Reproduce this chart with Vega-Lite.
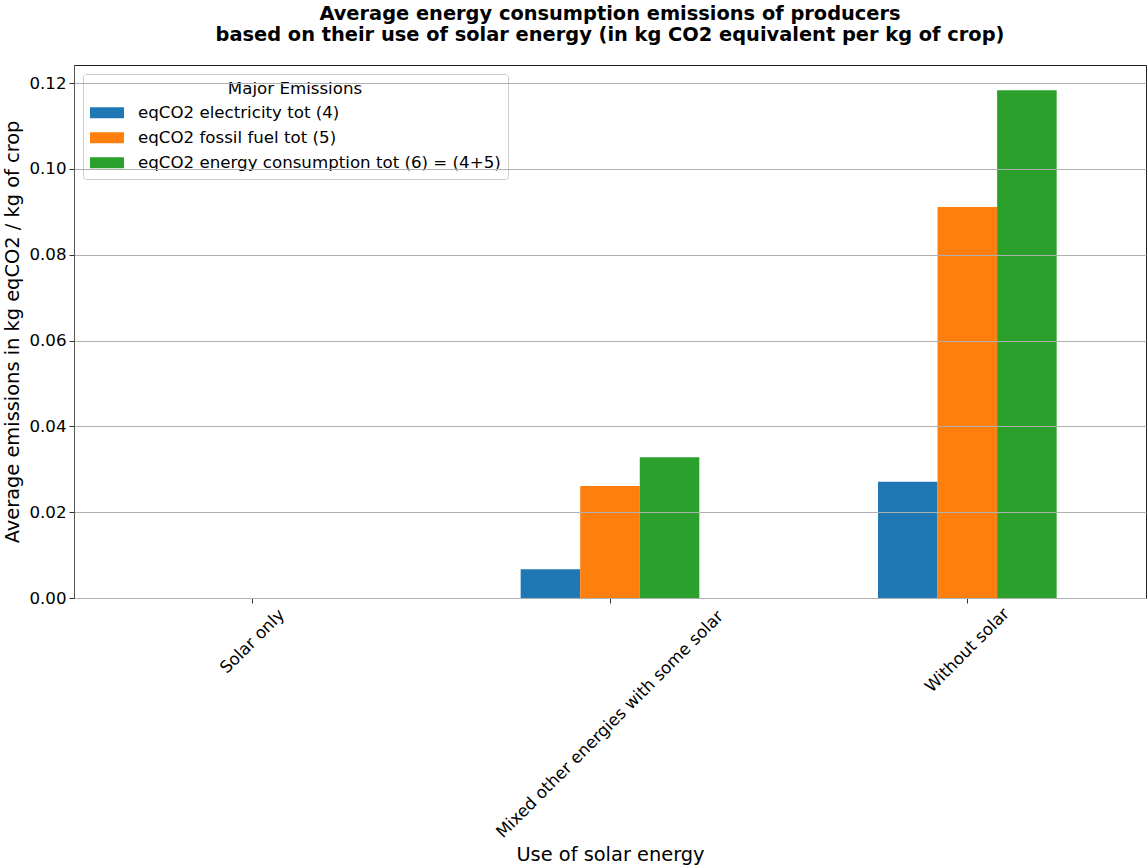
{
  "$schema": "https://vega.github.io/schema/vega-lite/v6.json",
  "width": 1072,
  "height": 533,
  "autosize": {"type": "none"},
  "padding": {"left": 74, "top": 65, "right": 1, "bottom": 269},
  "background": "white",
  "config": {
    "font": "DejaVu Sans",
    "view": {"stroke": "#222222", "strokeWidth": 1}
  },
  "title": {
    "text": ["Average energy consumption emissions of producers", "based on their use of solar energy (in kg CO2 equivalent per kg of crop)"],
    "fontSize": 19.4,
    "fontWeight": "bold",
    "color": "black",
    "lineHeight": 21,
    "offset": 20,
    "anchor": "middle"
  },
  "data": {
    "values": [
      {"category": "Solar only", "series": "eqCO2 electricity tot (4)", "value": 0},
      {"category": "Solar only", "series": "eqCO2 fossil fuel tot (5)", "value": 0},
      {"category": "Solar only", "series": "eqCO2 energy consumption tot (6) = (4+5)", "value": 0},
      {"category": "Mixed other energies with some solar", "series": "eqCO2 electricity tot (4)", "value": 0.0067},
      {"category": "Mixed other energies with some solar", "series": "eqCO2 fossil fuel tot (5)", "value": 0.0261},
      {"category": "Mixed other energies with some solar", "series": "eqCO2 energy consumption tot (6) = (4+5)", "value": 0.0328},
      {"category": "Without solar", "series": "eqCO2 electricity tot (4)", "value": 0.0271},
      {"category": "Without solar", "series": "eqCO2 fossil fuel tot (5)", "value": 0.0911},
      {"category": "Without solar", "series": "eqCO2 energy consumption tot (6) = (4+5)", "value": 0.1183}
    ]
  },
  "mark": {"type": "bar", "strokeWidth": 0},
  "encoding": {
    "x": {
      "field": "category",
      "type": "nominal",
      "sort": ["Solar only", "Mixed other energies with some solar", "Without solar"],
      "scale": {"paddingInner": 0.5, "paddingOuter": 0.25},
      "axis": {
        "title": "Use of solar energy",
        "titleFontSize": 19.4,
        "titleFontWeight": "normal",
        "titleColor": "black",
        "titleBaseline": "middle",
        "titleY": 256,
        "labelAngle": -45,
        "labelAlign": "center",
        "labelBaseline": "middle",
        "labelFontSize": 16.67,
        "labelColor": "black",
        "labelLimit": 1000,
        "labelPadding": {"condition": [
          {"test": "datum.value === 'Solar only'", "value": 38},
          {"test": "datum.value === 'Without solar'", "value": 47}
        ], "value": 121},
        "tickSize": 5,
        "tickColor": "#333333",
        "domainColor": "#555555",
        "grid": false
      }
    },
    "xOffset": {
      "field": "series",
      "type": "nominal",
      "sort": ["eqCO2 electricity tot (4)", "eqCO2 fossil fuel tot (5)", "eqCO2 energy consumption tot (6) = (4+5)"],
      "scale": {"paddingInner": 0, "paddingOuter": 0}
    },
    "y": {
      "field": "value",
      "type": "quantitative",
      "scale": {"domain": [0, 0.1242], "nice": false},
      "axis": {
        "title": "Average emissions in kg eqCO2 / kg of crop",
        "titleFontSize": 19.4,
        "titleFontWeight": "normal",
        "titleColor": "black",
        "titleBaseline": "middle",
        "titleX": -62,
        "values": [0, 0.02, 0.04, 0.06, 0.08, 0.1, 0.12],
        "format": ".2f",
        "labelFontSize": 16.67,
        "labelColor": "black",
        "labelPadding": 3,
        "tickSize": 5,
        "tickColor": "#333333",
        "domainColor": "#555555",
        "grid": true,
        "gridColor": "#b0b0b0",
        "gridWidth": 1,
        "zindex": 1
      }
    },
    "color": {
      "field": "series",
      "type": "nominal",
      "sort": ["eqCO2 electricity tot (4)", "eqCO2 fossil fuel tot (5)", "eqCO2 energy consumption tot (6) = (4+5)"],
      "scale": {"range": ["#1f77b4", "#ff7f0e", "#2ca02c"]},
      "legend": {
        "title": "Major Emissions",
        "orient": "top-left",
        "offset": 9,
        "fillColor": "white",
        "strokeColor": "#cccccc",
        "cornerRadius": 3,
        "padding": 7,
        "titleFontSize": 16.67,
        "titleFontWeight": "normal",
        "titleColor": "black",
        "titleAnchor": "middle",
        "titleAlign": "center",
        "titlePadding": 5,
        "labelFontSize": 16.67,
        "labelColor": "black",
        "symbolOffset": 7,
        "labelOffset": 21,
        "rowPadding": 6,
        "symbolType": "M-1.7,-0.55L1.7,-0.55L1.7,0.55L-1.7,0.55Z",
        "symbolSize": 400,
        "symbolStrokeWidth": 0,
        "symbolOpacity": 1,
        "labelLimit": 600
      }
    }
  }
}
